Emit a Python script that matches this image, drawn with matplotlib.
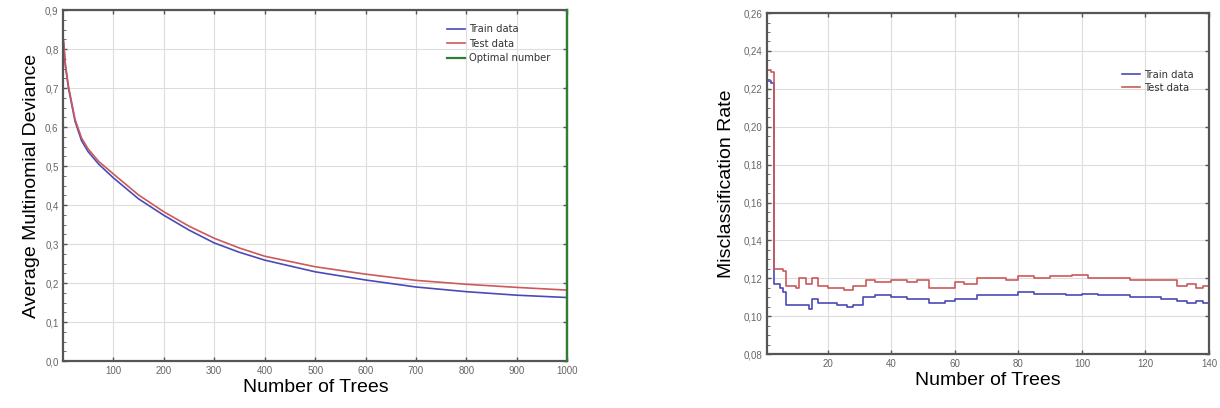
import matplotlib
matplotlib.use("Agg")
import matplotlib.pyplot as plt
from matplotlib.ticker import FuncFormatter, MultipleLocator, AutoMinorLocator

plt.rcParams["font.family"] = ["Liberation Sans", "DejaVu Sans"]

# left panel: average multinomial deviance vs number of trees
dev_trees = [1, 5, 11, 24, 37, 50, 71, 100, 150, 200, 250, 300, 350, 400,
             500, 600, 700, 800, 900, 1000]
dev_train = [0.818, 0.755, 0.700, 0.615, 0.565, 0.537, 0.505, 0.470, 0.416, 0.374,
             0.336, 0.303, 0.279, 0.259, 0.229, 0.208, 0.190, 0.178, 0.169, 0.163]
dev_test = [0.825, 0.760, 0.705, 0.620, 0.572, 0.544, 0.512, 0.480, 0.426, 0.383,
            0.346, 0.315, 0.290, 0.269, 0.242, 0.223, 0.207, 0.197, 0.189, 0.182]
optimal_trees = 1000

# right panel: misclassification rate vs number of trees
mis_trees_test = [1, 2, 3, 6, 7, 10, 11, 13, 15, 17, 20, 25, 28, 32, 35, 40, 45, 48, 52, 57, 60,
                  63, 67, 72, 76, 80, 85, 90, 97, 102, 110, 115, 125, 130, 133, 136, 138, 140]
mis_test = [0.230, 0.229, 0.125, 0.124, 0.116, 0.115, 0.120, 0.117, 0.120, 0.116, 0.115, 0.114,
            0.116, 0.119, 0.118, 0.119, 0.118, 0.119, 0.115, 0.115, 0.118, 0.117, 0.120, 0.120,
            0.119, 0.121, 0.120, 0.121, 0.122, 0.120, 0.120, 0.119, 0.119, 0.116, 0.117, 0.115,
            0.116, 0.115]
mis_trees_train = [1, 2, 3, 5, 6, 7, 10, 12, 14, 15, 17, 20, 23, 26, 28, 31, 35, 40, 45, 50, 52,
                   57, 60, 64, 67, 72, 76, 80, 85, 90, 95, 100, 105, 110, 115, 120, 125, 130,
                   133, 136, 138, 140]
mis_train = [0.224, 0.223, 0.117, 0.115, 0.113, 0.106, 0.106, 0.106, 0.104, 0.109, 0.107, 0.107,
             0.106, 0.105, 0.106, 0.110, 0.111, 0.110, 0.109, 0.109, 0.107, 0.108, 0.109, 0.109,
             0.111, 0.111, 0.111, 0.113, 0.112, 0.112, 0.111, 0.112, 0.111, 0.111, 0.110, 0.110,
             0.109, 0.108, 0.107, 0.108, 0.107, 0.107]

BLUE = "#4a4ab8"
RED = "#cc5a5a"
GREEN = "#2e7d32"


def comma(fmt):
    return FuncFormatter(lambda v, _: fmt.format(v).replace(".", ","))


def style(ax):
    for sp in ax.spines.values():
        sp.set_color("#555555")
        sp.set_linewidth(1.6)
    ax.grid(True, color="#dddddd", linewidth=0.8)
    ax.set_axisbelow(True)
    ax.tick_params(direction="in", length=3, width=1, colors="#555555",
                   labelsize=7, labelcolor="#666666", top=True, right=True)
    ax.tick_params(which="minor", direction="in", length=2, colors="#555555",
                   left=True, right=False)
    ax.yaxis.set_minor_locator(AutoMinorLocator(4))


leg_kw = dict(frameon=False, handlelength=1.8, handletextpad=0.4,
              prop={"family": "DejaVu Sans", "size": 7.2}, labelcolor="#333333")

fig = plt.figure(figsize=(12.2, 4.08), dpi=100)
ax1 = fig.add_axes([0.052, 0.115, 0.413, 0.86])
ax2 = fig.add_axes([0.629, 0.132, 0.362, 0.836])

ax1.plot(dev_trees, dev_train, color=BLUE, lw=1.2, label="Train data")
ax1.plot(dev_trees, dev_test, color=RED, lw=1.2, label="Test data")
ax1.axvline(optimal_trees, color=GREEN, lw=1.6, label="Optimal number", zorder=5, clip_on=False)
ax1.set_xlim(1, 1000)
ax1.set_ylim(0, 0.9)
ax1.xaxis.set_major_locator(MultipleLocator(100))
ax1.yaxis.set_major_locator(MultipleLocator(0.1))
ax1.yaxis.set_major_formatter(comma("{:.1f}"))
style(ax1)
ax1.set_xlabel("Number of Trees", fontsize=14, labelpad=2)
ax1.set_ylabel("Average Multinomial Deviance", fontsize=14, labelpad=4)
ax1.legend(loc="upper right", bbox_to_anchor=(0.985, 0.985), labelspacing=0.45, **leg_kw)

ax2.plot(mis_trees_train, mis_train, color=BLUE, lw=1.2, drawstyle="steps-post", label="Train data")
ax2.plot(mis_trees_test, mis_test, color=RED, lw=1.2, drawstyle="steps-post", label="Test data")
ax2.set_xlim(1, 140)
ax2.set_ylim(0.08, 0.26)
ax2.xaxis.set_major_locator(MultipleLocator(20))
ax2.yaxis.set_major_locator(MultipleLocator(0.02))
ax2.yaxis.set_major_formatter(comma("{:.2f}"))
style(ax2)
ax2.set_xlabel("Number of Trees", fontsize=14, labelpad=2)
ax2.set_ylabel("Misclassification Rate", fontsize=14, labelpad=6)
ax2.legend(loc="upper right", bbox_to_anchor=(0.985, 0.86), labelspacing=0.3, **leg_kw)

fig.savefig("out.png", dpi=100)
